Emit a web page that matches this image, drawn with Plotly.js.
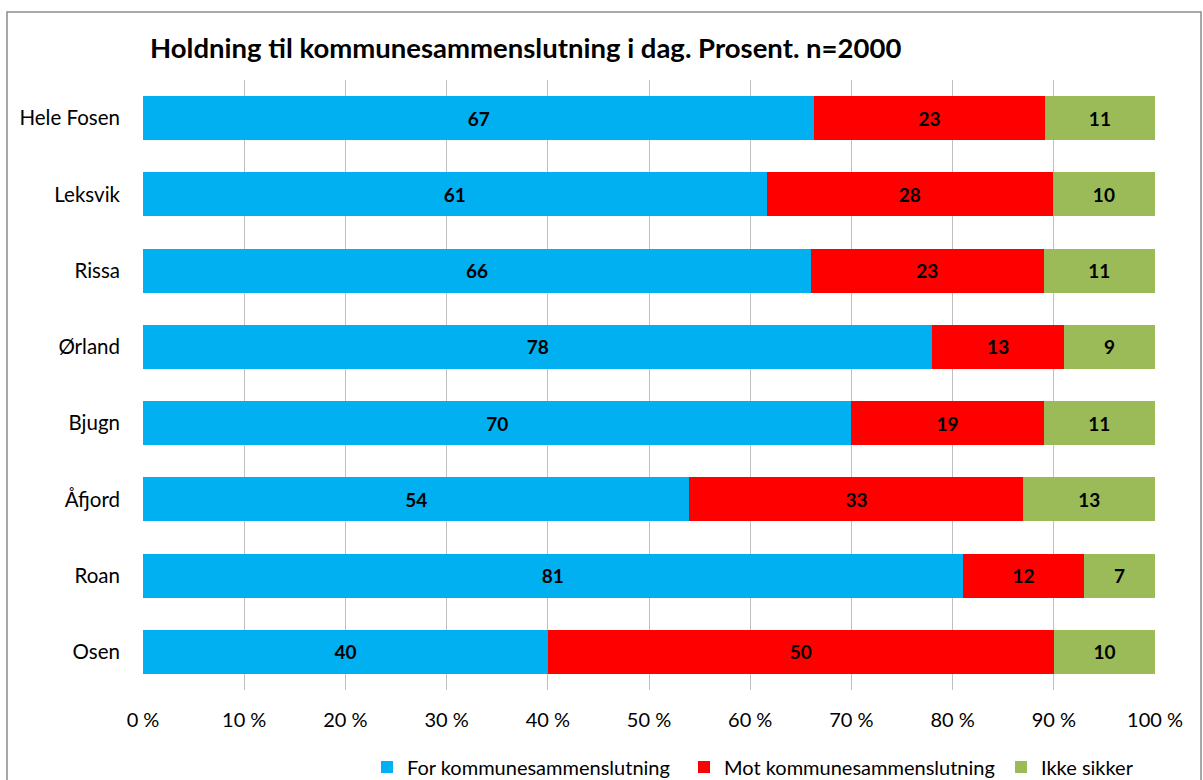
<!DOCTYPE html>
<html>
<head>
<meta charset="utf-8">
<script src="https://cdn.plot.ly/plotly-3.0.1.min.js"></script>
<style>
html,body{margin:0;padding:0;background:#fff;}
#chart{width:1203px;height:780px;}
</style>
</head>
<body>
<div id="chart"></div>
<script>
const categories = ["Hele Fosen", "Leksvik", "Rissa", "Ørland", "Bjugn", "Åfjord", "Roan", "Osen"];
const forValues = [67, 61, 66, 78, 70, 54, 81, 40];
const motValues = [23, 28, 23, 13, 19, 33, 12, 50];
const ikkeValues = [11, 10, 11, 9, 11, 13, 7, 10];
const seriesNames = ["For kommunesammenslutning", "Mot kommunesammenslutning", "Ikke sikker"];
const seriesColors = ["#00B0F0", "#FF0000", "#9BBB59"];
const tickVals = [0, 10, 20, 30, 40, 50, 60, 70, 80, 90, 100];
const tickLabels = ["0 %", "10 %", "20 %", "30 %", "40 %", "50 %", "60 %", "70 %", "80 %", "90 %", "100 %"];

const FONT = "Lato, 'Open Sans', sans-serif";
const allValues = [forValues, motValues, ikkeValues];

const traces = allValues.map((vals, i) => ({
  type: "bar",
  orientation: "h",
  name: seriesNames[i],
  y: categories,
  x: vals,
  text: vals.map(String),
  texttemplate: "%{text}",
  textposition: "inside",
  insidetextanchor: "middle",
  textangle: 0,
  constraintext: "none",
  textfont: {family: FONT, size: 19, color: "#000", weight: "bold"},
  marker: {color: seriesColors[i], line: {width: 0}},
  hoverinfo: "x+y+name"
}));

const W = 1203, H = 780;
const L = 143, R = 1155, T = 80, B = 690;
const pw = R - L, ph = B - T;
const px = v => (v - L) / pw;
const py = v => (B - v) / ph;

const layout = {
  width: W, height: H,
  margin: {l: L, r: W - R, t: T, b: H - B, pad: 0},
  paper_bgcolor: "#fff",
  plot_bgcolor: "#fff",
  barmode: "stack",
  barnorm: "percent",
  bargap: 0.423,
  showlegend: true,
  font: {family: FONT, size: 20, color: "#000"},
  title: {
    text: "<b>Holdning til kommunesammenslutning i dag. Prosent. n=2000</b>",
    font: {family: FONT, size: 27.5, color: "#000"},
    xref: "paper", x: px(150), xanchor: "left",
    yref: "container", y: 1 - 48 / H, yanchor: "middle"
  },
  xaxis: {
    range: [0, 100],
    tickvals: tickVals,
    ticktext: tickLabels,
    showgrid: true,
    gridcolor: "#BFBFBF",
    gridwidth: 1,
    zeroline: false,
    showline: false,
    ticks: "",
    ticklabelstandoff: 16,
    tickfont: {family: FONT, size: 20, color: "#000"},
    fixedrange: true
  },
  yaxis: {
    autorange: "reversed",
    showgrid: false,
    zeroline: false,
    showline: false,
    ticks: "",
    ticklabelstandoff: 22,
    tickfont: {family: FONT, size: 20.5, color: "#000"},
    fixedrange: true
  },
  legend: {
    orientation: "h",
    xref: "container",
    x: 367 / W, xanchor: "left",
    yref: "container",
    y: 1 - 767 / H, yanchor: "middle",
    font: {family: FONT, size: 20, color: "#000"},
    entrywidth: 272,
    entrywidthmode: "pixels",
    tracegroupgap: 0,
    traceorder: "normal",
    bgcolor: "rgba(0,0,0,0)"
  },
  shapes: [{
    type: "rect", xref: "paper", yref: "paper",
    x0: px(7), x1: px(1201), y0: py(800), y1: py(12),
    line: {color: "#8C8C8C", width: 1.5},
    fillcolor: "rgba(0,0,0,0)",
    layer: "below"
  }]
};

Plotly.newPlot("chart", traces, layout, {displayModeBar: false, staticPlot: true});
</script>
</body>
</html>
